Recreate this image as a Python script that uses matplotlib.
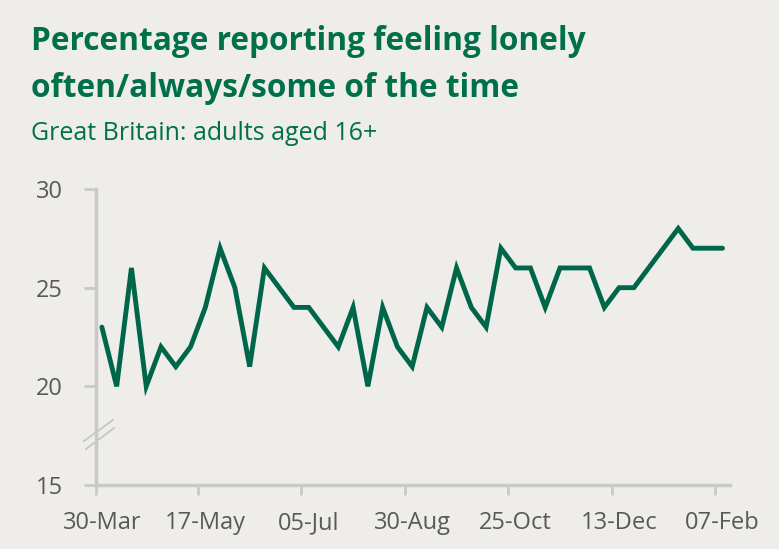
import matplotlib.pyplot as plt
from matplotlib.lines import Line2D

# loneliness share, weekly-ish survey waves (percent)
values = [23, 20, 26, 20, 22, 21, 22, 24, 27, 25, 21, 26, 25, 24, 24, 23, 22, 24, 20, 24, 22, 21,
          24, 23, 26, 24, 23, 27, 26, 26, 24, 26, 26, 26, 24, 25, 25, 26, 27, 28, 27, 27, 27]
tick_labels = ['30-Mar', '17-May', '05-Jul', '30-Aug', '25-Oct', '13-Dec', '07-Feb']
label_step = 7
y_ticks = [15, 20, 25, 30]

bg = '#EFEDEA'
green = '#00664A'
grey_txt = '#595959'
grey_axis = '#C9C9C9'

fig = plt.figure(figsize=(7.79, 5.49), dpi=100, facecolor=bg)
ax = fig.add_axes([0.1232, 0.1166, 0.8138, 0.5391], facecolor=bg)

x = list(range(len(values)))
ax.plot(x, values, color=green, lw=3.5, solid_joinstyle='miter', solid_capstyle='round', zorder=3)

ax.set_xlim(-0.4, len(values) - 0.5)
ax.set_ylim(15, 30)

# labels on categories, tick marks between them
ax.set_xticks(x[::label_step])
ax.set_xticklabels(tick_labels)
ax.set_xticks([i - 0.5 for i in x[::label_step]][1:] + [-0.4], minor=True)
ax.tick_params(axis='x', which='major', length=0, pad=19, labelsize=17, labelcolor=grey_txt)
ax.tick_params(axis='x', which='minor', length=7, width=2, color=grey_axis)

ax.set_yticks(y_ticks)
ax.tick_params(axis='y', length=9, width=2, color=grey_axis, pad=15, labelsize=17, labelcolor=grey_txt)

for lab in ax.get_xticklabels() + ax.get_yticklabels():
    lab.set_family('Open Sans')
    lab.set_stretch('semi-condensed')

for s in ['top', 'right']:
    ax.spines[s].set_visible(False)
for s in ['left', 'bottom']:
    ax.spines[s].set_color(grey_axis)
    ax.spines[s].set_linewidth(2.5)

# axis break marks
for dy in (0, 8):
    ax.add_line(Line2D([84 + dy * 0.25, 113 + dy * 0.15], [549 - 441 - dy, 549 - 420 - dy],
                       transform=None, color='#C4C4C4', lw=1.2, clip_on=False))

fig.text(31 / 779, 1 - 50 / 549, 'Percentage reporting feeling lonely', fontsize=22.8,
         fontweight='bold', color='#00704A', family='Open Sans', va='baseline')
fig.text(31 / 779, 1 - 97 / 549, 'often/always/some of the time', fontsize=22.8,
         fontweight='bold', color='#00704A', family='Open Sans', va='baseline')
fig.text(31 / 779, 1 - 140 / 549, 'Great Britain: adults aged 16+', fontsize=18,
         color='#00704A', family='Open Sans', va='baseline')

fig.savefig('out.png', dpi=100, facecolor=bg)
